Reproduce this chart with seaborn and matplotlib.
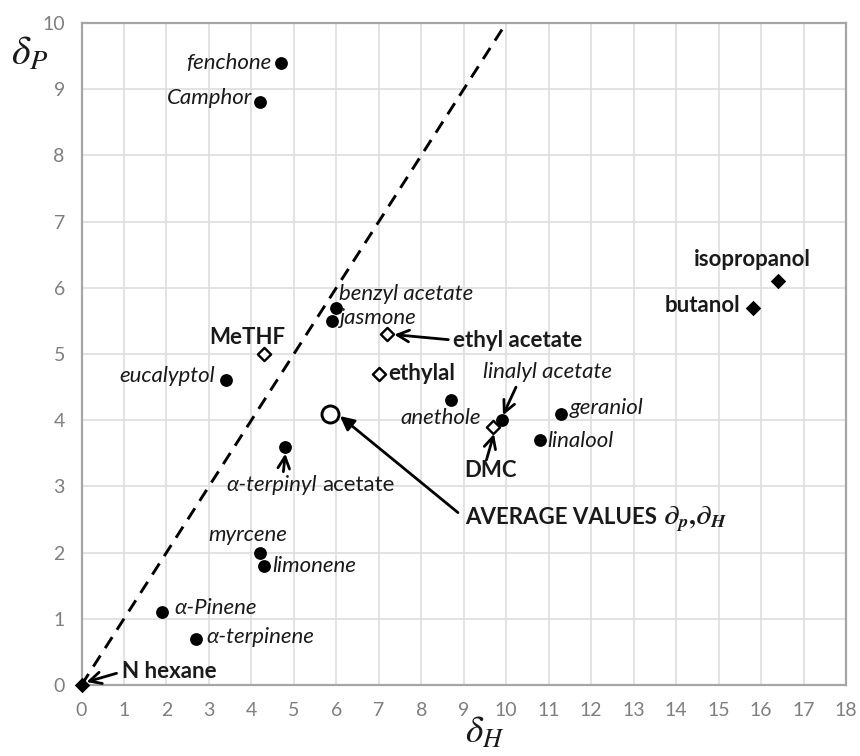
import matplotlib
matplotlib.use("Agg")
import matplotlib.pyplot as plt
import seaborn as sns
import pandas as pd

# ---------------- data ----------------
names = ["fenchone", "Camphor", "benzyl acetate", "jasmone", "eucalyptol",
         "anethole", "linalyl acetate", "geraniol", "linalool",
         "α-terpinyl acetate", "myrcene", "limonene", "α-Pinene", "α-terpinene",
         "MeTHF", "ethyl acetate", "ethylal", "DMC",
         "isopropanol", "butanol", "N hexane",
         "AVERAGE VALUES"]
delta_H = [4.7, 4.2, 6.0, 5.9, 3.4,
           8.7, 9.9, 11.3, 10.8,
           4.8, 4.2, 4.3, 1.9, 2.7,
           4.3, 7.2, 7.0, 9.7,
           16.4, 15.8, 0.0,
           5.85]
delta_P = [9.4, 8.8, 5.7, 5.5, 4.6,
           4.3, 4.0, 4.1, 3.7,
           3.6, 2.0, 1.8, 1.1, 0.7,
           5.0, 5.3, 4.7, 3.9,
           6.1, 5.7, 0.0,
           4.1]
kinds = (["oil"] * 14 + ["green"] * 4 + ["classic"] * 3 + ["average"])

line_x = [0, 10]
line_y = [0, 10]

x_ticks = list(range(0, 19))
y_ticks = list(range(0, 11))

df = pd.DataFrame({"name": names, "dH": delta_H, "dP": delta_P, "kind": kinds})

# ---------------- layout (pixel offsets from point, y up) ----------------
label_layout = {
    "fenchone": (-10, 0, "right"),
    "Camphor": (-8, 4, "right"),
    "benzyl acetate": (3, 14, "left"),
    "jasmone": (8, 3, "left"),
    "eucalyptol": (-11, 4, "right"),
    "anethole": (30, -18, "right"),
    "linalyl acetate": (-19, 48, "left"),
    "geraniol": (8, 6, "left"),
    "linalool": (7, -1, "left"),
    "myrcene": (-12, 18, "center"),
    "limonene": (8, 0, "left"),
    "α-Pinene": (12, 4, "left"),
    "α-terpinene": (10, 2, "left"),
    "MeTHF": (-17, 17, "center"),
    "ethyl acetate": (66, -6, "left"),
    "ethylal": (9, 0, "left"),
    "DMC": (-3, -44, "center"),
    "isopropanol": (-26, 22, "center"),
    "butanol": (-12, 2, "right"),
    "N hexane": (40, 14, "left"),
}
arrow_layout = {
    "ethyl acetate": ((61, -5.5), (7, -0.5), "->"),
    "linalyl acetate": ((14, 33), (1, 5), "->"),
    "DMC": ((-7, -33), (0.5, -7), "->"),
    "α-terpinyl acetate": ((-2, -25), (0, -7), "->"),
    "N hexane": ((35, 11.7), (5, 3), "->"),
    "AVERAGE VALUES": ((128, -99), (10, -2.5), "-|>"),
}
italic_names = ["fenchone", "Camphor", "benzyl acetate", "jasmone", "eucalyptol",
                "anethole", "linalyl acetate", "geraniol", "linalool",
                "myrcene", "limonene", "α-Pinene", "α-terpinene"]

W, H = 860, 756
L, R, T, B = 81.5, 846, 23, 685
FONT = ["Lato", "DejaVu Sans"]
TXT = "#1a1a1a"

plt.rcParams["mathtext.fontset"] = "stix"
fig = plt.figure(figsize=(W / 100, H / 100), dpi=100)
fig.patch.set_facecolor("white")
ax = fig.add_axes([L / W, (H - B) / H, (R - L) / W, (B - T) / H])

ax.set_xlim(0, 18)
ax.set_ylim(0, 10)
ax.set_xticks(x_ticks)
ax.set_yticks(y_ticks)
ax.set_xticklabels([str(v) for v in x_ticks])
ax.set_yticklabels([str(v) for v in y_ticks])
ax.grid(True, color="#dedede", linewidth=1.2, zorder=0)
ax.set_axisbelow(True)
for s in ax.spines.values():
    s.set_color("#a6a6a6")
    s.set_linewidth(1.6)
ax.tick_params(length=0, labelcolor="#7f7f7f", labelsize=14)
ax.tick_params(axis="x", pad=12)
ax.tick_params(axis="y", pad=12)
for lab in ax.get_xticklabels() + ax.get_yticklabels():
    lab.set_family(FONT)

ax.plot(line_x, line_y, color="black", linewidth=2.1, dashes=(4.5, 3), zorder=2)

# markers
common = dict(x="dH", y="dP", ax=ax, legend=False, zorder=4, clip_on=False)
sns.scatterplot(data=df[df.kind == "oil"], marker="o", s=85,
                color="black", edgecolor="black", linewidth=0, **common)
sns.scatterplot(data=df[df.kind == "green"], marker="D", s=45,
                facecolor="white", edgecolor="black", linewidth=1.7, **common)
sns.scatterplot(data=df[df.kind == "classic"], marker="D", s=62,
                color="black", edgecolor="black", linewidth=0, **common)
sns.scatterplot(data=df[df.kind == "average"], marker="o", s=150,
                facecolor="white", edgecolor="black", linewidth=2.1, **common)
ax.set_xlabel("")
ax.set_ylabel("")

pts = dict(zip(names, zip(delta_H, delta_P)))
FS = 16

for name, (dx, dy, ha) in label_layout.items():
    style = "italic" if name in italic_names else "normal"
    weight = "normal" if name in italic_names else "bold"
    ax.annotate(name, xy=pts[name], xytext=(dx, dy), textcoords="offset pixels",
                ha=ha, va="center", fontsize=FS, fontstyle=style, fontweight=weight,
                family=FONT, color=TXT, zorder=5)

# α-terpinyl acetate (mixed styles)
t1 = ax.annotate("α-terpinyl", xy=pts["α-terpinyl acetate"], xytext=(-59, -38),
                 textcoords="offset pixels", ha="left", va="center", fontsize=FS,
                 fontstyle="italic", family=FONT, color=TXT, zorder=5)
ax.annotate("acetate", xy=(1, 0.5), xycoords=t1, xytext=(5, 0), textcoords="offset pixels",
            ha="left", va="center", fontsize=FS, family=FONT, color=TXT, zorder=5)

# average values label
t2 = ax.annotate("AVERAGE VALUES", xy=pts["AVERAGE VALUES"],
                 xytext=(135, -104), textcoords="offset pixels", ha="left", va="center",
                 fontsize=FS, fontweight="bold", family=FONT, color=TXT, zorder=5)
ax.annotate(r"$\mathbfit{\partial}_{\mathbfit{p}}\mathbf{,}\mathbfit{\partial}_{\mathbfit{H}}$",
            xy=(1, 0.5), xycoords=t2, xytext=(6, -2), textcoords="offset pixels",
            ha="left", va="center", fontsize=19, color=TXT, zorder=5)

# arrows
for name, ((tx, ty), (hx, hy), st) in arrow_layout.items():
    x0, y0 = ax.transData.transform(pts[name])
    tail = ax.transData.inverted().transform((x0 + tx, y0 + ty))
    head = ax.transData.inverted().transform((x0 + hx, y0 + hy))
    ax.annotate("", xy=head, xytext=tail,
                arrowprops=dict(arrowstyle=st, color="black", lw=2, shrinkA=0, shrinkB=0,
                                mutation_scale=21), zorder=5, annotation_clip=False)

# axis labels
fig.text(30 / W, 1 - 54 / H, r"$\delta_P$", fontsize=29, ha="center", va="center", color=TXT)
fig.text(485 / W, 1 - 733 / H, r"$\delta_H$", fontsize=27, ha="center", va="center", color=TXT)

fig.savefig("out.png", dpi=100, facecolor="white")
